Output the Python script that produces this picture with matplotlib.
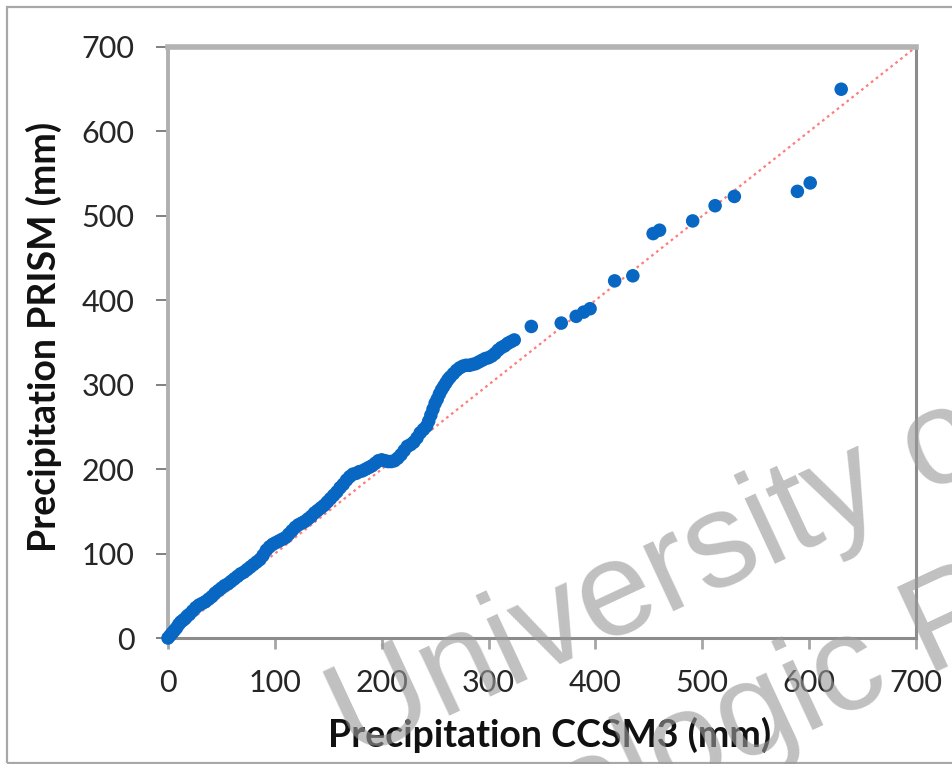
import matplotlib
matplotlib.use("Agg")
import matplotlib.pyplot as plt
from matplotlib.patches import Rectangle

# ---- data ----
ccsm3_dense = [0, 2, 4, 6, 8, 10, 12, 14, 16, 18, 20, 23, 26, 29, 32, 35, 38, 41, 44, 47,
               50, 53, 56, 59, 62, 65, 68, 71, 74, 77, 80, 83, 86, 89, 92, 95, 98, 101, 104, 107,
               110, 113, 116, 119, 122, 125, 128, 131, 134, 137, 140, 143, 146, 149, 152, 155,
               158, 161, 164, 167, 170, 173, 176, 179, 182, 185, 188, 191, 194, 197, 200, 203,
               206, 209, 212, 215, 218, 221, 224, 227, 230, 233, 236, 239, 242, 244, 246, 248,
               250, 252, 254, 256, 258, 260, 262, 264, 267, 270, 273, 276, 279, 282, 285, 288,
               291, 294, 297, 300, 303, 306, 309, 312, 315, 318, 321, 324]
prism_dense = [0, 3, 6, 9, 12, 16, 19, 21, 23, 26, 28, 32, 36, 39, 41, 43, 46, 49, 53, 56,
               59, 62, 64, 67, 70, 73, 76, 78, 81, 84, 87, 90, 93, 98, 104, 108, 111, 113, 115, 117,
               119, 123, 127, 131, 134, 136, 138, 141, 144, 148, 151, 154, 157, 161, 165, 169,
               173, 178, 182, 187, 191, 194, 195, 197, 198, 200, 202, 204, 207, 210, 211, 210,
               209, 209, 210, 213, 217, 222, 227, 229, 232, 237, 243, 247, 251, 257, 264, 271,
               278, 283, 289, 294, 298, 302, 306, 309, 313, 317, 320, 322, 323, 323, 324, 325,
               327, 329, 331, 332, 334, 337, 341, 344, 346, 349, 351, 353]

ccsm3_sparse = [340, 368, 382, 389, 395, 418, 435, 454, 460, 491, 512, 530, 589, 601, 630]
prism_sparse = [369, 373, 381, 386, 390, 423, 429, 479, 483, 494, 512, 523, 529, 539, 650]

ticks = [0, 100, 200, 300, 400, 500, 600, 700]
xlabel = "Precipitation CCSM3 (mm)"
ylabel = "Precipitation PRISM (mm)"
watermark_1 = "University of Arizona"
watermark_2 = "Hydrologic Research Center"

# ---- figure ----
W, H = 953, 764
fig = plt.figure(figsize=(W / 100, H / 100), dpi=100)
fig.patch.set_facecolor("white")

# outer frame
fig.patches.append(Rectangle((7 / W, 1.5 / H), 1.2, 1 - 8.5 / H, transform=fig.transFigure,
                             fill=False, edgecolor="#a8a8a8", linewidth=1.6, zorder=0))

ax = fig.add_axes([168 / W, 1 - 638 / H, (916 - 168) / W, (638 - 47) / H])
ax.set_xlim(0, 700)
ax.set_ylim(0, 700)

ax.plot([0, 700], [0, 700], linestyle=(0, (1.2, 1.6)), color="#ff7c7c", linewidth=1.6, zorder=2)
allx = ccsm3_dense + ccsm3_sparse
ally = prism_dense + prism_sparse
ax.scatter(allx, ally, s=95, color="#0867c2", edgecolors="none", zorder=3, clip_on=False)

ax.set_xticks(ticks)
ax.set_yticks(ticks)
font = "Lato"
for lab in ax.get_xticklabels() + ax.get_yticklabels():
    lab.set_fontfamily(font)
    lab.set_fontsize(22)
    lab.set_color("#262626")

ax.tick_params(axis="x", direction="out", length=8, width=2, color="#a6a6a6", pad=14)
ax.tick_params(axis="y", direction="out", length=9, width=1.4, color="#808080", pad=15)

ax.spines["top"].set_color("#b3b3b3")
ax.spines["top"].set_linewidth(4)
ax.spines["left"].set_color("#b0b0b0")
ax.spines["left"].set_linewidth(2.8)
ax.spines["bottom"].set_color("#8c8c8c")
ax.spines["bottom"].set_linewidth(2.2)
ax.spines["right"].set_color("#8c8c8c")
ax.spines["right"].set_linewidth(2.2)

ax.set_xlabel(xlabel, fontfamily=font, fontweight="bold", fontsize=27, color="#111111")
ax.set_ylabel(ylabel, fontfamily=font, fontweight="bold", fontsize=27, color="#111111")
ax.xaxis.label.set_va("center")
ax.yaxis.label.set_va("center")
ax.xaxis.set_label_coords(0.51, -0.164)
ax.yaxis.set_label_coords(-0.166, 0.51)

# watermark
wm = dict(rotation=25, rotation_mode="anchor", ha="left", va="baseline", fontsize=97,
          family="Liberation Sans", color="#9a9a9a", alpha=0.62, zorder=10)
fig.text(353 / W, 1 - 761 / H, watermark_1, **wm)
fig.text(316 / W, 1 - 962 / H, watermark_2, **wm)

fig.savefig("out.png", dpi=100, facecolor="white")
